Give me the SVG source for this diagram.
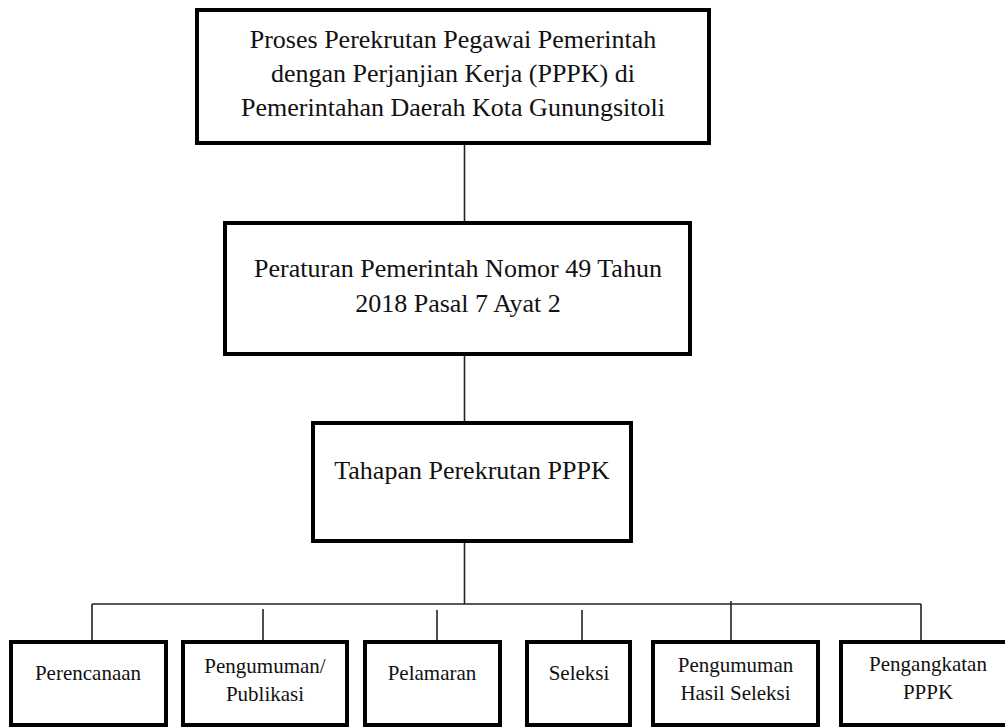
<svg xmlns="http://www.w3.org/2000/svg" width="1005" height="727" viewBox="0 0 1005 727">
<style>
.box{fill:#fff;stroke:#000;stroke-width:4}
.t{font-family:"Liberation Serif","Times New Roman",serif;fill:#111;text-anchor:middle}
.big{font-size:26px}
.sm{font-size:21px}
.c{stroke:#222;stroke-width:1.6;fill:none}
</style>
<rect width="1005" height="727" fill="#fff"/>
<g id="connectors">
<line class="c" x1="464.5" y1="143" x2="464.5" y2="223"/>
<line class="c" x1="464.5" y1="354" x2="464.5" y2="423"/>
<line class="c" x1="464.5" y1="541" x2="464.5" y2="604"/>
<line class="c" x1="92" y1="604" x2="921" y2="604"/>
<line class="c" x1="92" y1="604" x2="92" y2="642"/>
<line class="c" x1="263" y1="609" x2="263" y2="642"/>
<line class="c" x1="437" y1="610" x2="437" y2="642"/>
<line class="c" x1="582" y1="610" x2="582" y2="642"/>
<line class="c" x1="731" y1="601" x2="731" y2="642"/>
<line class="c" x1="921" y1="604" x2="921" y2="642"/>
</g>
<g id="node-proses">
<rect class="box" x="197" y="10" width="512" height="133"/>
<text class="t big" x="453" y="48">Proses Perekrutan Pegawai Pemerintah</text>
<text class="t big" x="453" y="82">dengan Perjanjian Kerja (PPPK) di</text>
<text class="t big" x="453" y="116">Pemerintahan Daerah Kota Gunungsitoli</text>
</g>
<g id="node-peraturan">
<rect class="box" x="225" y="223" width="465" height="131"/>
<text class="t big" x="458" y="277">Peraturan Pemerintah Nomor 49 Tahun</text>
<text class="t big" x="458" y="312">2018 Pasal 7 Ayat 2</text>
</g>
<g id="node-tahapan">
<rect class="box" x="313" y="423" width="318" height="118"/>
<text class="t big" x="472" y="479">Tahapan Perekrutan PPPK</text>
</g>
<g id="node-perencanaan">
<rect class="box" x="11" y="642" width="155" height="83"/>
<text class="t sm" x="88" y="680">Perencanaan</text>
</g>
<g id="node-pengumuman">
<rect class="box" x="183" y="642" width="164" height="83"/>
<text class="t sm" x="265" y="673">Pengumuman/</text>
<text class="t sm" x="265" y="701">Publikasi</text>
</g>
<g id="node-pelamaran">
<rect class="box" x="365" y="642" width="135" height="83"/>
<text class="t sm" x="432" y="680">Pelamaran</text>
</g>
<g id="node-seleksi">
<rect class="box" x="527" y="642" width="103" height="83"/>
<text class="t sm" x="579" y="680">Seleksi</text>
</g>
<g id="node-hasil">
<rect class="box" x="653" y="642" width="165" height="83"/>
<text class="t sm" x="735.5" y="672">Pengumuman</text>
<text class="t sm" x="735.5" y="700">Hasil Seleksi</text>
</g>
<g id="node-pengangkatan">
<rect class="box" x="841" y="642" width="173" height="83"/>
<text class="t sm" x="928" y="671">Pengangkatan</text>
<text class="t sm" x="928" y="699">PPPK</text>
</g>
</svg>
